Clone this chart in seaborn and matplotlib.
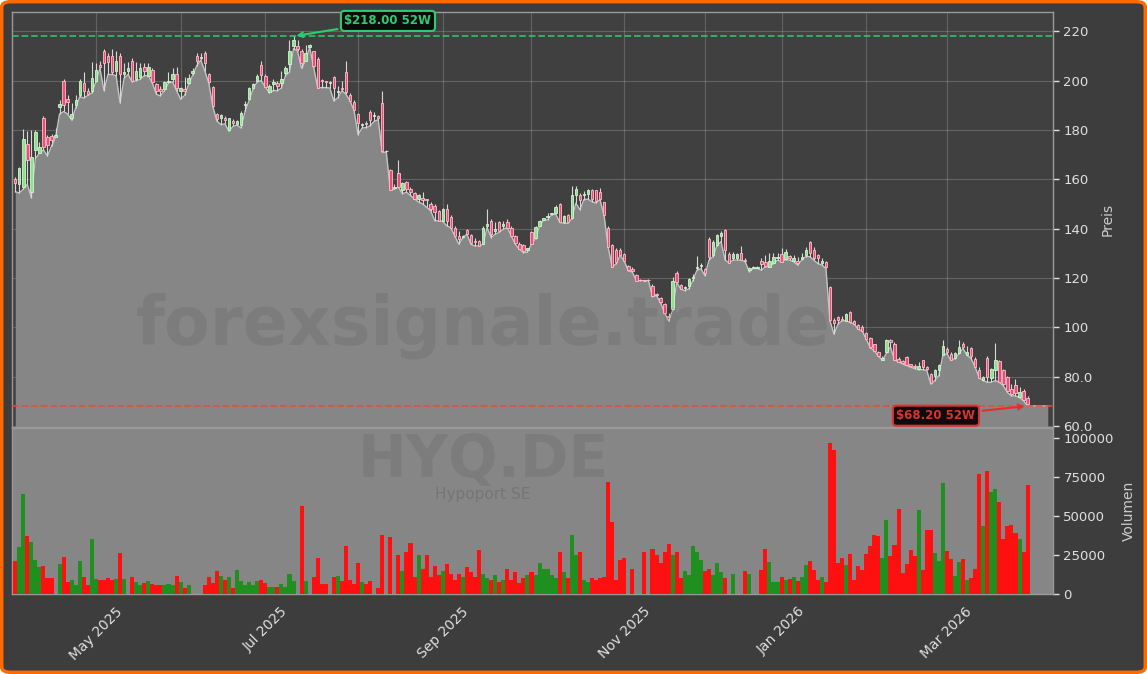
import numpy as np
import pandas as pd
import matplotlib
matplotlib.use("Agg")
import matplotlib.pyplot as plt
import seaborn as sns
from matplotlib.patches import FancyBboxPatch

# trading days (Xetra calendar), Apr 2025 - Mar 2026
holidays = ["2025-04-18", "2025-04-21", "2025-05-01", "2025-12-24",
            "2025-12-25", "2025-12-26", "2025-12-31", "2026-01-01"]
days = pd.bdate_range("2025-04-01", "2026-03-30")
days = days[~days.isin(pd.to_datetime(holidays))]

ticker = "HYQ.DE"
company = "Hypoport SE"

open_ = [160, 158, 157, 174.5, 155, 172, 170.5, 185, 177, 177.5,
         177, 189.5, 200, 192.5, 185, 190, 194, 199, 196, 196,
         200, 206.5, 212, 210, 210, 204, 210, 202.5, 204, 208,
         200.5, 201.5, 205.5, 202, 204.5, 198.5, 196.5, 196.5, 199.5, 200.5,
         202.5, 196, 196.5, 199, 203, 210, 209, 211, 202.5, 197.5,
         186.3, 184.7, 184.8, 180.2, 183.8, 182.4, 182.2, 190.1, 192.4, 197.2,
         199.8, 206.5, 201.7, 195.3, 198.5, 199, 199, 203, 206.8, 214,
         214, 212, 208.1, 213.6, 212, 208.8, 200.3, 199.8, 199, 201.3,
         195.3, 197, 203.4, 194.2, 191.4, 186.6, 182, 182.9, 187.3, 185.8,
         185.6, 191, 171.3, 163.7, 156.5, 162.4, 155.5, 158.9, 156.2, 154.4,
         152.1, 152.5, 152, 150.1, 149.4, 147.1, 143.3, 148, 144.9, 140.5,
         137, 136.5, 139.4, 137.5, 135, 135.1, 133.9, 141, 143.3, 139,
         142.6, 141, 142.6, 140.5, 137.1, 134, 133.4, 131.5, 138.5, 136.4,
         141.2, 143.6, 144.9, 145.8, 146.3, 150, 142.6, 145.6, 144.3, 153.8,
         153.8, 153.5, 154.1, 155.6, 155.6, 154.8, 150.8, 140.2, 133.3, 131.3,
         131.3, 129.6, 125.1, 123.5, 121.1, 119.2, 119.3, 119.2, 117, 113.5,
         112, 109.4, 104.7, 107.4, 122, 117.2, 116, 117, 120, 124,
         125, 123.8, 136, 129.5, 133.4, 137.2, 139.6, 129.8, 128, 128,
         130, 127.5, 123.2, 124, 124.2, 126.9, 126.5, 124.6, 126.2, 128,
         129.7, 127.6, 128.9, 126.8, 127, 127.7, 129.4, 134.5, 131.4, 129.3,
         126, 126.6, 116.4, 103.2, 104.4, 103.4, 102.8, 106.2, 102.7, 101.1,
         100.3, 97.7, 95.9, 93.2, 90.2, 87, 90, 95, 93.5, 87.2,
         86.5, 88, 85.2, 84.3, 83, 86.7, 84, 81.2, 80.5, 82.6,
         89, 91.1, 89.4, 87.8, 89.5, 93.5, 89, 91.5, 87.4, 82.9,
         78.8, 87.8, 79.6, 82.6, 86.4, 82.6, 79.9, 75, 76.5, 72,
         74.4, 71.5]

high = [161, 165, 180.5, 179.5, 180, 180, 175, 185.5, 178, 178.5,
        181, 192, 200.5, 194, 191, 194, 200.5, 203.4, 197, 207.5,
        207, 208, 213, 211, 213, 212, 211, 207, 207.5, 209,
        207.5, 207, 207, 207, 205, 199, 198, 200, 203.4, 205,
        205.5, 197.5, 201.5, 202.5, 205, 211, 211, 212, 203, 198,
        187, 186.5, 185.6, 185, 184.5, 184, 187.5, 191.8, 197.5, 199,
        202.5, 208.1, 202.5, 198.5, 200.6, 200, 204, 206, 216.3, 218,
        216.3, 213, 214.3, 214.8, 212.2, 209.5, 200.6, 200, 200, 202,
        197.9, 200, 208.1, 195, 192, 187, 182.8, 183.5, 188, 187.2,
        186, 195.8, 172, 164, 158, 167.8, 158.8, 159.5, 157, 155,
        154, 154.8, 152.2, 151, 150, 147.5, 148.5, 150.1, 145.5, 141,
        139.2, 137.5, 140, 138, 136.4, 135.5, 141, 148, 144, 142.6,
        143, 143.3, 144, 141, 137.5, 134.5, 134, 132.3, 139, 141,
        143.5, 144.5, 146.3, 146.5, 149.5, 150.5, 145.5, 146, 157.2, 157.2,
        154.5, 155.2, 156, 156, 155.8, 156.5, 151, 141, 134, 132,
        132, 130, 125.5, 124.5, 121.5, 119.5, 119.4, 119.6, 117.5, 114,
        112.2, 110, 106, 120.6, 123, 117.5, 116.8, 120, 121.5, 128.8,
        126, 124, 136.5, 135.5, 138, 138.9, 140, 130.5, 130.5, 130,
        133, 128.3, 124.5, 124.8, 124.8, 128, 129.3, 130, 130, 130,
        132.1, 131.7, 129.3, 129.3, 128.7, 130, 132.7, 135.2, 132.5, 129.8,
        128, 127, 117, 104, 104.8, 104.5, 106, 106.5, 103, 101.5,
        100.8, 98, 96.2, 93.5, 90.5, 88.5, 95.5, 95.5, 94, 88,
        87, 88.5, 85.3, 85.3, 86, 87, 84.5, 81.5, 83, 85,
        94.9, 92, 90, 90, 95.1, 94, 92.5, 92, 88, 84,
        80.5, 88.5, 83.5, 93.8, 87, 83, 80.5, 77.1, 79.2, 75.8,
        75, 72.3]

low = [155, 154.5, 156, 158, 152.5, 168.5, 170.5, 172, 169.5, 173.5,
       177, 186.5, 187.5, 186.5, 184, 189, 193.5, 193, 194, 195,
       199.5, 205, 196, 202.5, 202.5, 202, 191, 201, 202.5, 199.5,
       200, 200.5, 202, 202, 199, 194.5, 193.8, 196, 199, 199.5,
       196, 192.5, 194, 198.5, 202.3, 206, 208.3, 204, 199, 189.5,
       183.6, 182.2, 182.5, 179.5, 181.5, 182, 180.8, 187.7, 192, 196.8,
       199.5, 200, 197.5, 195, 196, 195.9, 197, 202, 203.4, 213,
       212, 205, 208, 213.5, 205.4, 197, 197.2, 197.2, 197, 191.8,
       193.1, 195.9, 194.5, 191.8, 188, 178.1, 180.8, 181, 181.7, 183.5,
       184.2, 171, 171, 155.5, 156, 156.9, 154.2, 154.8, 153.5, 152.1,
       150.8, 150.1, 148.7, 147.3, 143.3, 143.2, 143, 141.2, 140.4, 137,
       133.7, 136.4, 137.8, 133.7, 133, 133, 133.7, 140.5, 136.4, 137.8,
       138.5, 139.8, 140.5, 137.1, 133.7, 131.7, 130.3, 130.5, 133.7, 136,
       141, 143.5, 143.6, 145.6, 146, 142.6, 142.2, 142.2, 144, 150.4,
       147.7, 151.8, 152, 151, 150.4, 151.8, 145.3, 132.6, 124.5, 125.8,
       129.2, 126.9, 123, 122.4, 119, 119, 119, 119, 112.5, 112.9,
       110, 106, 102.6, 107, 118.3, 115.6, 114.9, 115.6, 119, 123.1,
       123.8, 121, 127.2, 128.7, 133.2, 134.8, 127.3, 126.2, 127.3, 127.3,
       127.3, 126.6, 122.5, 123.9, 123.9, 123.2, 124.6, 124.5, 125.9, 127.3,
       126.6, 127.4, 127.3, 126.6, 125.3, 127.3, 128.7, 128.7, 127.3, 125.9,
       125.3, 123.9, 102.7, 97.3, 101.4, 102.7, 102.7, 102, 101.4, 99.3,
       98.6, 95.2, 91.8, 90.5, 88.4, 86.8, 89.5, 92.1, 86.9, 86,
       85.3, 84.6, 83.9, 83.3, 82.9, 82.9, 82.6, 77.1, 78.5, 80.5,
       88.7, 89.4, 86.7, 87.4, 89.4, 91.5, 88.7, 87.4, 84, 79.6,
       78.5, 77.8, 77.8, 78.5, 77.8, 76.4, 73.7, 72.3, 72.3, 71.6,
       70.3, 68.2]

close = [158.5, 164.5, 176.5, 168, 169, 179, 173, 173, 174, 176,
         178, 190.5, 190, 191.5, 186.5, 192, 200, 196, 194.5, 201,
         204.5, 205.5, 207, 207.5, 203.5, 208, 202.5, 203.5, 205, 200,
         204, 205, 204, 205.5, 199.5, 196, 196, 199.5, 200, 202.5,
         197, 197, 196, 201, 204, 208, 209.5, 207, 199.3, 189.7,
         184.3, 185.9, 184.2, 184.7, 182.8, 183.6, 187, 190.7, 197, 198.5,
         202, 202.4, 197.6, 197.9, 199.3, 198, 200.5, 205, 212, 216.5,
         213, 207, 211, 214.5, 206, 197.2, 199.7, 199.5, 199.5, 197.2,
         195.9, 196.5, 195.2, 191.9, 188.2, 182.9, 182.5, 182.4, 184.2, 186.2,
         185, 171.3, 171.5, 155.6, 157, 157, 158.5, 156.2, 154.8, 152.2,
         153.5, 151.5, 151.6, 148, 146.7, 143.3, 148, 143.3, 140.5, 137.1,
         136, 137.2, 137.8, 134.4, 134.5, 133, 140.5, 142, 137.8, 140,
         139.2, 142, 140.5, 137.1, 134.4, 131.7, 131, 132, 133.7, 140.8,
         143.3, 144.2, 145.1, 146.2, 149, 142.8, 145.2, 142.6, 153.8, 156.3,
         151.5, 154, 155.6, 152, 151.1, 152, 145.5, 132.8, 124.6, 126.5,
         129.5, 127, 123.1, 123, 119, 119.1, 119, 119.1, 112.6, 113,
         110.5, 106, 104.3, 119, 118.3, 115.6, 116.2, 119.7, 120.5, 124.5,
         125.3, 122, 128.6, 134.5, 137.5, 138.2, 131.4, 126.3, 129.6, 129.6,
         127.4, 127, 123.9, 124.3, 124.5, 125.7, 125, 127, 128.4, 128.7,
         126.6, 130.7, 128.1, 128, 126.2, 128.6, 131.4, 130, 128, 128,
         127, 124.6, 103, 101.7, 103, 103, 105.5, 102.1, 101.5, 99.3,
         98.6, 95.3, 91.9, 90.5, 88.5, 87.6, 95, 94.3, 87, 86.2,
         85.8, 84.8, 84.5, 84, 84.5, 84, 83, 77.5, 82.6, 84.6,
         92.4, 90.1, 86.9, 89.7, 92.1, 92.1, 90, 88.3, 84.1, 79.7,
         79.9, 80.1, 83.3, 86.9, 77.9, 77.1, 74.4, 73, 73.5, 74,
         70.5, 68.8]

volume = [21000, 30300, 64100, 37200, 33300, 21800, 17500, 17900, 10500, 10500,
          0, 19200, 23900, 7700, 9000, 5800, 20900, 10800, 5800, 35500,
          9400, 8800, 8800, 10200, 9200, 9400, 26100, 9400, 0, 10700,
          7800, 5800, 7200, 8200, 6500, 5500, 5500, 5800, 6500, 5500,
          11700, 7700, 3600, 5800, 0, 0, 0, 5800, 10700, 7200,
          14500, 11700, 9200, 10700, 3600, 15400, 8200, 5800, 7700, 5800,
          8200, 9200, 7200, 4500, 4500, 4500, 6500, 4500, 12800, 8200,
          0, 56400, 8200, 0, 10800, 23000, 6500, 6500, 0, 11100,
          11700, 8200, 30800, 9200, 6500, 20100, 7700, 6500, 8200, 0,
          3900, 37800, 0, 36700, 0, 25300, 15000, 27000, 33000, 11000,
          25000, 16000, 25000, 11000, 18000, 12000, 15000, 19000, 13000, 9000,
          13000, 11000, 17000, 14000, 11000, 28000, 13000, 10000, 9000, 12000,
          8000, 9000, 16000, 9000, 14000, 7000, 10000, 12000, 14000, 12000,
          20000, 16000, 16000, 12000, 10000, 27000, 14000, 10000, 38000, 25000,
          27000, 9000, 8000, 10000, 9000, 10000, 11000, 72000, 46000, 9000,
          22000, 23000, 0, 16000, 0, 0, 27000, 0, 29000, 25000,
          20000, 27000, 32000, 25000, 27000, 10000, 15000, 12000, 31000, 27000,
          22000, 15000, 16000, 12000, 20000, 14000, 10000, 0, 13000, 0,
          0, 15000, 12800, 0, 0, 15400, 28800, 20500, 7700, 7700,
          10900, 9000, 9600, 10900, 8300, 10900, 18600, 21100, 15400, 9000,
          10900, 7700, 96800, 92300, 20100, 23000, 18600, 25600, 9000, 18000,
          15400, 25600, 30800, 37800, 37200, 23000, 47400, 24300, 31400, 54500,
          13500, 19200, 28200, 24300, 53800, 15400, 40900, 40900, 26300, 21100,
          71000, 27600, 22400, 11500, 20500, 22400, 9000, 10300, 16000, 77000,
          43600, 79000, 65400, 67300, 59000, 35200, 43600, 44200, 39000, 35200,
          27000, 69700]

df = pd.DataFrame({"date": days, "open": open_, "high": high, "low": low,
                   "close": close, "volume": volume})
df["idx"] = np.arange(len(df))
df["dir"] = np.where(df["close"] >= df["open"], "up", "down")

high52 = df["high"].max()
low52 = df["low"].min()
i_high = int(df["high"].idxmax())
i_low = int(df["low"].idxmin())

sns.set_theme(style="dark")
plt.rcParams["font.family"] = ["DejaVu Sans"]

bg = "#3d3d3d"
fill_c = "#868686"
txt_c = "#e0e0e0"

fig = plt.figure(figsize=(11.47, 6.74), dpi=100)
fig.patch.set_facecolor("white")
fig.add_artist(FancyBboxPatch((0.0015, 0.0025), 0.997, 0.995,
                              boxstyle="round,pad=0,rounding_size=0.008",
                              transform=fig.transFigure, facecolor=bg,
                              edgecolor="#ff6a00", linewidth=2.5, zorder=-10))

W, H = 1147, 674
ax = fig.add_axes([12 / W, 1 - 427 / H, 1041 / W, 415 / H])
axv = fig.add_axes([12 / W, 1 - 594 / H, 1041 / W, 166 / H], sharex=ax)

# ---- price panel
ax.set_facecolor("#404040")
x = df["idx"].to_numpy()
fill_x = np.append(x, x[-1] + 5)
fill_y = np.append(df["low"].to_numpy(), df["low"].iloc[-1])
ymin, ymax = low52 * 0.875, high52 * 1.045
ax.fill_between(fill_x, fill_y, ymin, color=fill_c, zorder=1, lw=0)
sns.lineplot(x=fill_x, y=fill_y, ax=ax, color="#c4c4c4", lw=1, zorder=2)

up = df["dir"] == "up"
face = np.where(up, "#8fe08f", "#ee4d78")
edge = np.where(up, "#d2f5d2", "#ffc0cb")
ax.vlines(x, df["low"], df["high"], color="#d8d8d8", lw=0.8, zorder=3)
body = np.maximum((df["close"] - df["open"]).abs(), 0.25)
ax.bar(x, body, bottom=df[["open", "close"]].min(axis=1), width=0.6,
       color=face, edgecolor=edge, linewidth=0.6, zorder=4)

ax.axhline(high52, color="#2ecc71", ls="--", lw=1.3, alpha=0.85, zorder=5)
ax.axhline(low52, color="#e74c3c", ls="--", lw=1.3, alpha=0.85, zorder=5)

ax.annotate(f"${high52:.2f} 52W", xy=(i_high, high52), xytext=(68, 11),
            textcoords="offset points", ha="center", va="center",
            fontsize=8.5, fontweight="bold", color="#2ecc71",
            bbox=dict(boxstyle="round,pad=0.3", fc="#0c0c0c", ec="#2ecc71", lw=1.5),
            arrowprops=dict(arrowstyle="->", color="#2ecc71", lw=1.5), zorder=10)
ax.annotate(f"${low52:.2f} 52W", xy=(i_low, low52), xytext=(-66, -7),
            textcoords="offset points", ha="center", va="center",
            fontsize=8.5, fontweight="bold", color="#e03030",
            bbox=dict(boxstyle="round,pad=0.3", fc="#0c0c0c", ec="#e03030", lw=1.5),
            arrowprops=dict(arrowstyle="->", color="#e03030", lw=1.5), zorder=10)

ax.set_ylim(ymin, ymax)
ax.set_xlim(-0.8, len(df) + 5.3)
yt = np.arange(60, 221, 20)
ax.set_yticks(yt)
ax.set_yticklabels([f"{v:.0f}" if v >= 100 else f"{v:.1f}" for v in yt])
ax.yaxis.tick_right()
ax.yaxis.set_label_position("right")
ax.set_ylabel("Preis", color="#cccccc", fontsize=10, labelpad=6)
ax.set_xlabel("")
ax.grid(True, color="white", alpha=0.18, lw=0.8)
ax.set_axisbelow(True)
ax.tick_params(axis="x", length=0, labelbottom=False)
ax.tick_params(axis="y", colors=txt_c, labelsize=9.5, length=4, width=1)

# ---- volume panel
axv.set_facecolor(fill_c)
sns.barplot(data=df, x="idx", y="volume", hue="dir", ax=axv, native_scale=True,
            palette={"up": "#1f8f1f", "down": "#ff1010"}, dodge=False,
            width=1.0, saturation=1, errorbar=None, legend=False,
            linewidth=0, edgecolor="none", zorder=3)
axv.set_ylim(0, df["volume"].max() * 1.1)
axv.set_yticks([0, 25000, 50000, 75000, 100000])
axv.set_yticklabels(["0", "25000", "50000", "75000", "100000"])
axv.yaxis.tick_right()
axv.yaxis.set_label_position("right")
axv.set_ylabel("Volumen", color="#cccccc", fontsize=10, labelpad=6)
axv.set_xlabel("")
axv.grid(False)
axv.tick_params(axis="y", colors=txt_c, labelsize=9.5, length=4, width=1)

month_start = df.groupby(df["date"].dt.to_period("M"))["idx"].min().iloc[1:]
tick_pos = month_start.to_numpy()
tick_lab = [d.strftime("%b %Y") if d.month % 2 == 1 else ""
            for d in df.loc[tick_pos, "date"]]
axv.set_xticks(tick_pos)
axv.set_xticklabels(tick_lab, rotation=45, ha="center")
axv.tick_params(axis="x", colors=txt_c, labelsize=10, length=4, width=1)
ax.set_xticks(tick_pos)
axv.set_xlim(-0.8, len(df) + 5.3)

for a in (ax, axv):
    for s in a.spines.values():
        s.set_color("#9a9a9a")
        s.set_linewidth(1)

# watermarks
fig.text(483 / W, 1 - 326 / H, "forexsignale.trade", fontsize=48,
         fontweight="bold", color="black", alpha=0.07, ha="center", va="center")
fig.text(483 / W, 1 - 460 / H, ticker, fontsize=42, fontweight="bold",
         color="black", alpha=0.07, ha="center", va="center")
fig.text(483 / W, 1 - 494 / H, company, fontsize=11, color="black",
         alpha=0.12, ha="center", va="center")

fig.savefig("out.png", dpi=100, facecolor=fig.get_facecolor())
